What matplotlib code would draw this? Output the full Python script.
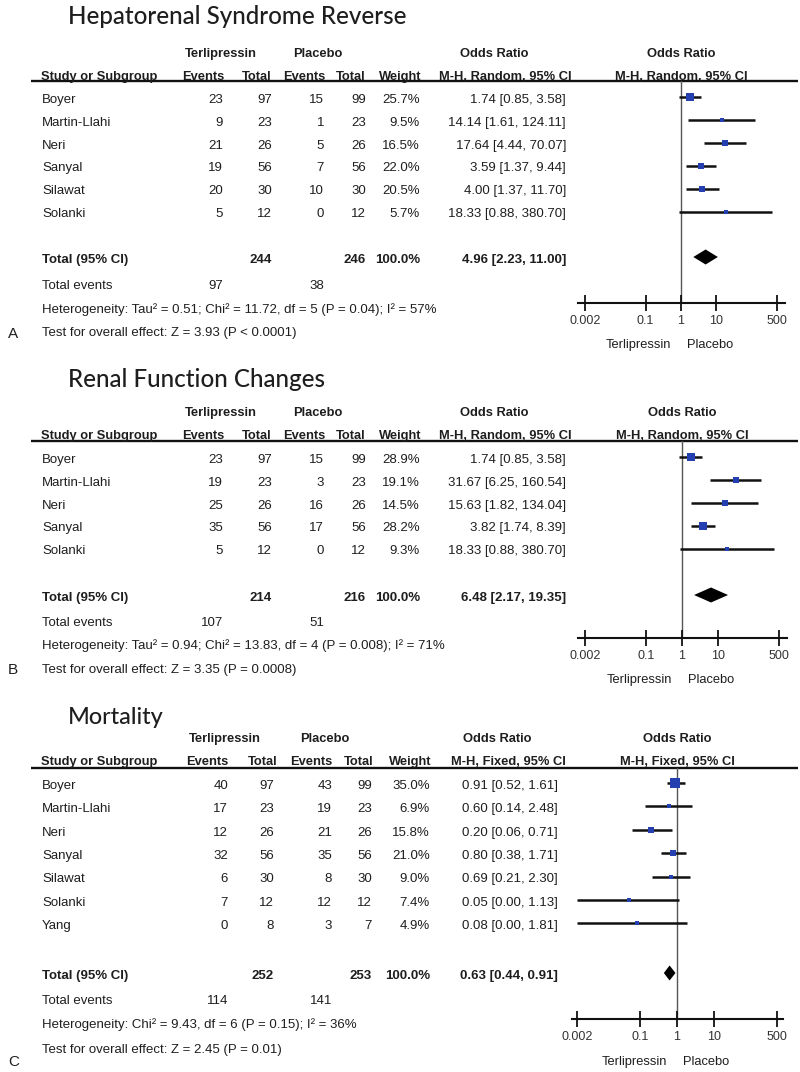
import matplotlib
matplotlib.use("Agg")
import matplotlib.pyplot as plt
from matplotlib import font_manager as fm
from matplotlib.ticker import NullLocator

# ---------------- data ----------------
# Panel A
a_title = "Hepatorenal Syndrome Reverse"
a_studies = ["Boyer", "Martin-Llahi", "Neri", "Sanyal", "Silawat", "Solanki"]
a_t_events = [23, 9, 21, 19, 20, 5]
a_t_total = [97, 23, 26, 56, 30, 12]
a_p_events = [15, 1, 5, 7, 10, 0]
a_p_total = [99, 23, 26, 56, 30, 12]
a_weight = [25.7, 9.5, 16.5, 22.0, 20.5, 5.7]
a_or = [1.74, 14.14, 17.64, 3.59, 4.00, 18.33]
a_lo = [0.85, 1.61, 4.44, 1.37, 1.37, 0.88]
a_hi = [3.58, 124.11, 70.07, 9.44, 11.70, 380.70]
a_tot_n = [244, 246]
a_tot_or = [4.96, 2.23, 11.00]
a_tot_events = [97, 38]
a_method = "M-H, Random, 95% CI"
a_het = "Heterogeneity: Tau\u00b2 = 0.51; Chi\u00b2 = 11.72, df = 5 (P = 0.04); I\u00b2 = 57%"
a_test = "Test for overall effect: Z = 3.93 (P < 0.0001)"

# Panel B
b_title = "Renal Function Changes"
b_studies = ["Boyer", "Martin-Llahi", "Neri", "Sanyal", "Solanki"]
b_t_events = [23, 19, 25, 35, 5]
b_t_total = [97, 23, 26, 56, 12]
b_p_events = [15, 3, 16, 17, 0]
b_p_total = [99, 23, 26, 56, 12]
b_weight = [28.9, 19.1, 14.5, 28.2, 9.3]
b_or = [1.74, 31.67, 15.63, 3.82, 18.33]
b_lo = [0.85, 6.25, 1.82, 1.74, 0.88]
b_hi = [3.58, 160.54, 134.04, 8.39, 380.70]
b_tot_n = [214, 216]
b_tot_or = [6.48, 2.17, 19.35]
b_tot_events = [107, 51]
b_method = "M-H, Random, 95% CI"
b_het = "Heterogeneity: Tau\u00b2 = 0.94; Chi\u00b2 = 13.83, df = 4 (P = 0.008); I\u00b2 = 71%"
b_test = "Test for overall effect: Z = 3.35 (P = 0.0008)"

# Panel C
c_title = "Mortality"
c_studies = ["Boyer", "Martin-Llahi", "Neri", "Sanyal", "Silawat", "Solanki", "Yang"]
c_t_events = [40, 17, 12, 32, 6, 7, 0]
c_t_total = [97, 23, 26, 56, 30, 12, 8]
c_p_events = [43, 19, 21, 35, 8, 12, 3]
c_p_total = [99, 23, 26, 56, 30, 12, 7]
c_weight = [35.0, 6.9, 15.8, 21.0, 9.0, 7.4, 4.9]
c_or = [0.91, 0.60, 0.20, 0.80, 0.69, 0.05, 0.08]
c_lo = [0.52, 0.14, 0.06, 0.38, 0.21, 0.00, 0.00]
c_hi = [1.61, 2.48, 0.71, 1.71, 2.30, 1.13, 1.81]
c_tot_n = [252, 253]
c_tot_or = [0.63, 0.44, 0.91]
c_tot_events = [114, 141]
c_method = "M-H, Fixed, 95% CI"
c_het = "Heterogeneity: Chi\u00b2 = 9.43, df = 6 (P = 0.15); I\u00b2 = 36%"
c_test = "Test for overall effect: Z = 2.45 (P = 0.01)"

axis_ticks = [0.002, 0.1, 1, 10, 500]
axis_ticklabels = ["0.002", "0.1", "1", "10", "500"]
favours = ["Terlipressin", "Placebo"]
panel_letters = ["A", "B", "C"]

# ---------------- styling ----------------
W, H = 800, 1072
fig = plt.figure(figsize=(W / 100, H / 100), dpi=100)
bg = fig.add_axes([0, 0, 1, 1])
bg.set_xlim(0, W)
bg.set_ylim(H, 0)
bg.axis("off")

names = {f.name for f in fm.fontManager.ttflist}
NARROW = "Liberation Sans Narrow" in names
TF = (["Liberation Sans Narrow", "Liberation Sans", "DejaVu Sans"] if NARROW
      else ["Liberation Sans", "DejaVu Sans"])
TS = 10.8 if NARROW else 9.5
HS = 10.8 if NARROW else 9.3
TITLE_F = ["Lato", "Open Sans", "DejaVu Sans"]
TC = "#1e1e1e"
BLUE = "#2440b0"


def capmid(size):
    return 0.716 * size * 100 / 72 / 2


def txt(x, y, s, ha="left", bold=False, size=TS, family=None, color=TC, weight=None):
    return bg.text(x, y + capmid(size), s, ha=ha, va="baseline",
                   fontsize=size, family=family or TF,
                   fontweight=weight or ("bold" if bold else "normal"), color=color)


def panel(title, studies, te, tt, pe, pt, wt, orv, lo, hi, tot_n, tot_or, tot_ev,
          method, het, test, letter, L):
    # title
    t = txt(68, L["title"], title, size=20, family=TITLE_F, weight="medium")
    fig.canvas.draw()
    w = t.get_window_extent().width
    fs = 20 * L["title_w"] / w
    t.set_fontsize(fs)
    t.set_y(L["title"] + capmid(fs))

    cx = L["cols"]
    hx = L["hcols"]
    # group headers
    txt(L["tc"], L["h1"], "Terlipressin", ha="center", bold=True, size=HS)
    txt(L["pc"], L["h1"], "Placebo", ha="center", bold=True, size=HS)
    txt(L["orc"], L["h1"], "Odds Ratio", ha="center", bold=True, size=HS)
    txt(L["c"], L["h1"], "Odds Ratio", ha="center", bold=True, size=HS)
    txt(41, L["h2"], "Study or Subgroup", bold=True, size=HS)
    for x, s in zip(hx, ["Events", "Total", "Events", "Total", "Weight", method]):
        txt(x, L["h2"], s, ha="right", bold=True, size=HS)
    txt(L["c"], L["h2"], method, ha="center", bold=True, size=HS)
    bg.plot([31, 798], [L["ul"], L["ul"]], color="#111", lw=1.7, solid_capstyle="butt")

    rows = [L["r0"] + i * L["dr"] for i in range(len(studies))]
    for y, s, a, b, c, d, w_, o, l, h in zip(rows, studies, te, tt, pe, pt, wt, orv, lo, hi):
        txt(42, y + 1, s)
        for x, v in zip(cx[:4], [a, b, c, d]):
            txt(x, y + 1, str(v), ha="right")
        txt(cx[4], y + 1, f"{w_:.1f}%", ha="right")
        txt(cx[5], y + 1, f"{o:.2f} [{l:.2f}, {h:.2f}]", ha="right")

    ty = L["tot"]
    txt(42, ty, "Total (95% CI)", bold=True)
    txt(cx[1], ty, str(tot_n[0]), ha="right", bold=True)
    txt(cx[3], ty, str(tot_n[1]), ha="right", bold=True)
    txt(cx[4], ty, "100.0%", ha="right", bold=True)
    txt(cx[5], ty, f"{tot_or[0]:.2f} [{tot_or[1]:.2f}, {tot_or[2]:.2f}]", ha="right", bold=True)
    txt(42, L["tev"], "Total events")
    txt(cx[0], L["tev"], str(tot_ev[0]), ha="right")
    txt(cx[2], L["tev"], str(tot_ev[1]), ha="right")
    txt(42, L["het"], het)
    txt(42, L["test"], test)
    txt(8, L["letter"], letter, size=11, family=["Liberation Sans", "DejaVu Sans"])

    # forest plot axes
    left, right, c0, dec = L["axL"], L["axR"], L["c"], L["dec"]
    top, ay = L["ul"], L["axis"]
    ax = fig.add_axes([left / W, 1 - ay / H, (right - left) / W, (ay - top) / H])
    ax.set_xscale("log")
    ax.set_xlim(10 ** ((left - c0) / dec), 10 ** ((right - c0) / dec))
    ax.set_ylim(ay, top)
    ax.patch.set_visible(False)
    for s in ["top", "left", "right"]:
        ax.spines[s].set_visible(False)
    ax.spines["bottom"].set_linewidth(1.5)
    ax.spines["bottom"].set_color("#111")
    ax.set_yticks([])
    ax.set_xticks(axis_ticks)
    ax.set_xticklabels(axis_ticklabels)
    ax.xaxis.set_minor_locator(NullLocator())
    ax.tick_params(axis="x", direction="inout", length=11, width=1.3, color="#111",
                   pad=3, labelsize=9.0, labelcolor="#333")
    for lbl in ax.get_xticklabels():
        lbl.set_family(TF)
    ax.axvline(1, color="#555", lw=1.0, zorder=1)
    xmin = axis_ticks[0]
    for y, o, l, h, w_ in zip(rows, orv, lo, hi, wt):
        ax.plot([max(l, xmin), h], [y, y], color="#111", lw=1.8, zorder=2,
                solid_capstyle="butt")
        side = 2.2 + 0.2 * w_
        ax.plot([o], [y], marker="s", ms=side * 0.72, color=BLUE, mec=BLUE,
                mew=0, zorder=3)
    dy = 7.5
    ax.fill([tot_or[1], tot_or[0], tot_or[2], tot_or[0]],
            [ty - 1, ty - 1 - dy, ty - 1, ty - 1 + dy], color="black", zorder=3, lw=0)
    txt(c0 - 10, L["fav"], favours[0], ha="right", size=9.3)
    txt(c0 + 6, L["fav"], favours[1], ha="left", size=9.3)


LA = dict(title=15, title_w=339, h1=52, h2=75, ul=81, r0=97, dr=22.9, tot=258, tev=284,
          het=308, test=331, letter=333, axis=303, fav=343,
          cols=[223, 272, 324, 366, 420, 566], hcols=[224, 272, 325, 366, 421, 572],
          tc=221, pc=318, orc=494, c=681, dec=35.4, axL=578, axR=785)
LB = dict(title=378, title_w=256, h1=411, h2=434, ul=441, r0=457, dr=22.9, tot=596,
          tev=621, het=644, test=668, letter=669, axis=638, fav=678,
          cols=[223, 272, 324, 366, 420, 566], hcols=[224, 272, 325, 366, 421, 572],
          tc=221, pc=318, orc=494, c=682, dec=35.8, axL=578, axR=787)
LC = dict(title=716, title_w=96, h1=737, h2=760, ul=768, r0=783, dr=23.4, tot=974,
          tev=999, het=1023, test=1048, letter=1061, axis=1019, fav=1060,
          cols=[228, 274, 332, 372, 430, 558], hcols=[228, 278, 332, 374, 431, 566],
          tc=225, pc=325, orc=497, c=677, dec=36.9, axL=572, axR=783)

panel(a_title, a_studies, a_t_events, a_t_total, a_p_events, a_p_total, a_weight,
      a_or, a_lo, a_hi, a_tot_n, a_tot_or, a_tot_events, a_method, a_het, a_test,
      panel_letters[0], LA)
panel(b_title, b_studies, b_t_events, b_t_total, b_p_events, b_p_total, b_weight,
      b_or, b_lo, b_hi, b_tot_n, b_tot_or, b_tot_events, b_method, b_het, b_test,
      panel_letters[1], LB)
panel(c_title, c_studies, c_t_events, c_t_total, c_p_events, c_p_total, c_weight,
      c_or, c_lo, c_hi, c_tot_n, c_tot_or, c_tot_events, c_method, c_het, c_test,
      panel_letters[2], LC)

fig.savefig("out.png", dpi=100)
